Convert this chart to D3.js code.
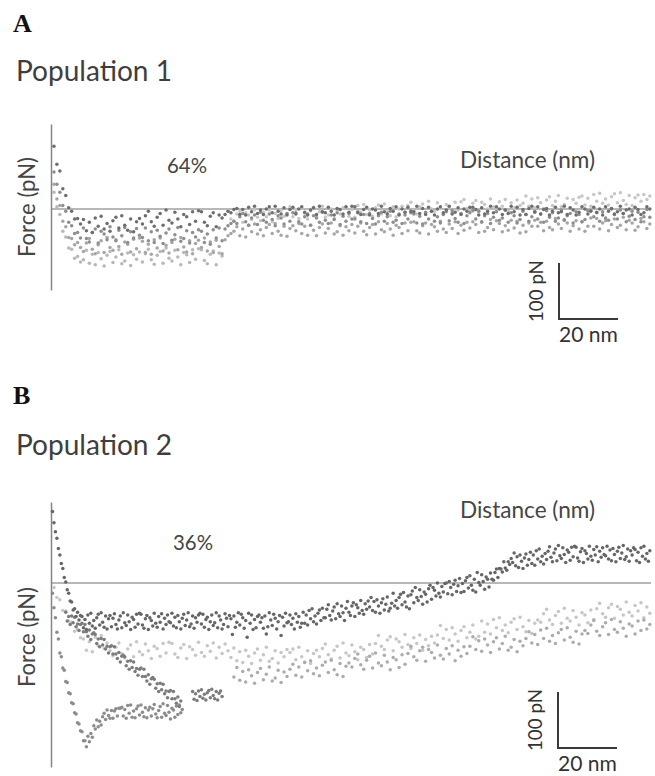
<!DOCTYPE html>
<html>
<head>
<meta charset="utf-8">
<script src="https://cdn.jsdelivr.net/npm/d3@7/dist/d3.min.js"></script>
<style>
  html, body { margin: 0; padding: 0; background: #fff; }
  svg { display: block; }
</style>
</head>
<body>
<div id="chart"></div>
<script>
/* Force-distance curves, two populations - D3 scatter */

/* ── Data (force in pN, sampled every *_STEP nm from *_START nm) ────── */

const DIST_MAX = 203.4;   // nm across the plot width

// Population 1 (64%)
const A1_START = 1, A1_STEP = 1;
const a1Force = [
  112, 80, 68, 36, 24, 2, -4, -18, -17, -27,
  -19, -39, -24, -42, -16, -31, -13, -36, -26, -40, -21, -15, -34, -12, -29, -38, -18, -41, -23, -17,
  -27, -12, -4, -23, -31, -15, -8, -29, -2, -20, -25, -6, -18, -32, -10, -14, -28, -5, -22, -3,
  -5, -24, -30, -13, -7, -32, -11, -16,
  -10, -4, -7, -1,
  1, -10, -1, -11, 3, -5, 5, -8, -2, -10, 0, 4, -7, 5, -4, -9, 2, -11, -1, 3,
  -9, 0, 4, -6, -11, -2, 2, -10, 5, -5, -7, 3, -4, -11, 1, -1, -9, 4, -6, 5,
  4, -7, -10, -1, 3, -11, 0, -2, -8, 5, -5, -9, 1, -4, 4, -11, 0, -6, 3, -4,
  -5, 5, -8, 1, -10, 3, -4, -11, 0, 4, -7, -2, 5, -9, -6, 2, -10, 0, -4, 3,
  3, -1, -11, 2, -9, -4, 5, -7, 4, 0, -10, -2, -8, 5, -5, 3, -11, -1, -10, 1,
  5, -6, 4, -9, -1, 1, -11, -4, 3, -7, -5, 5, -10, 2, -2, -11, -6, 4, 0, -9,
  -4, 3, -6, 0, -11, 4, -4, 1, -9, -5, 5, -8, -2, 0, -11, 3, -1, -10, -7, 4, 0
];

const A2_START = 1, A2_STEP = 1;
const a2Force = [
  66, 44, 30, 6, -4, -24, -30, -44, -42, -52,
  -34, -53, -59, -42, -36, -61, -40, -45, -55, -32, -50, -57, -38, -48, -33, -60, -41, -52, -35, -47,
  -51, -34, -57, -41, -60, -38, -49, -62, -43, -36, -56, -46, -33, -58, -53, -39, -61, -42, -50, -37,
  -40, -60, -45, -63, -37, -52, -34, -57,
  -36, -30, -26, -22,
  -26, -14, -8, -23, -29, -16, -11, -28, -6, -20, -24, -9, -19, -30, -12, -16, -27, -8, -22, -7,
  -7, -23, -27, -14, -9, -29, -12, -16, -24, -6, -20, -26, -11, -19, -7, -28, -13, -22, -8, -18,
  -18, -5, -23, -10, -26, -8, -17, -27, -12, -6, -22, -14, -4, -24, -20, -9, -26, -11, -18, -7,
  -9, -25, -13, -27, -6, -18, -4, -22, -14, -25, -10, -5, -21, -3, -17, -24, -8, -26, -12, -7,
  -3, -18, -4, -23, -12, -8, -26, -15, -5, -20, -16, -2, -24, -7, -12, -25, -19, -4, -10, -22,
  -14, -4, -18, -9, -24, -3, -15, -7, -22, -16, -2, -20, -12, -8, -25, -5, -10, -23, -19, -3,
  -3, -14, -7, -22, -5, -16, -20, 0, -10, -18, -2, -8, -23, -13, -4, -19, -6, -23, -14, -1, -15
];

const A3_START = 1, A3_STEP = 1;
const a3Force = [
  30, 4, -10, -40, -50, -70, -72, -88, -85, -95,
  -91, -74, -97, -81, -100, -78, -89, -102, -83, -76, -96, -86, -73, -98, -93, -79, -101, -82, -90, -77,
  -95, -80, -72, -91, -99, -83, -76, -97, -70, -88, -93, -74, -86, -100, -78, -82, -96, -73, -90, -71,
  -73, -92, -98, -81, -75, -100, -79, -84
];

const A4_START = 1, A4_STEP = 1;
const a4Force = [
  44, 18, 6, -22, -32, -51, -53, -64, -60, -69,
  -76, -61, -53, -72, -80, -64, -57, -78, -51, -69, -74, -55, -67, -81, -59, -63, -77, -54, -71, -52,
  -58, -78, -63, -81, -55, -70, -52, -75, -65, -79, -60, -54, -73, -51, -68, -77, -57, -80, -62, -56,
  -69, -52, -75, -59, -78, -56, -67, -80,
  -55, -48, -44, -40,
  -32, -48, -36, -50, -29, -41, -27, -45, -37, -48, -33, -28, -44, -26, -40, -47, -31, -49, -35, -30,
  -39, -26, -44, -31, -47, -29, -38, -48, -33, -27, -43, -35, -25, -45, -41, -30, -47, -32, -39, -28,
  -43, -31, -25, -40, -46, -33, -28, -45, -23, -37, -41, -26, -36, -47, -29, -33, -44, -25, -39, -24,
  -23, -39, -43, -30, -25, -45, -28, -32, -40, -22, -36, -42, -27, -35, -23, -44, -29, -38, -24, -34,
  -23, -28, -42, -24, -40, -33, -19, -37, -21, -26, -41, -30, -38, -20, -34, -22, -43, -29, -41, -25,
  -31, -20, -31, -24, -39, -22, -33, -37, -17, -27, -35, -19, -25, -40, -30, -21, -36, -23, -40, -31,
  -16, -31, -17, -36, -25, -21, -39, -28, -18, -33, -29, -15, -37, -20, -25, -38, -32, -17, -23, -35, -27
];

const A5_START = 60, A5_STEP = 1;
const a5Force = [
  -2, -18, -22, -9, -4, -24, -7, -11, -19, -1, -15, -21, -6, -14, -2, -23, -8, -17, -3, -13,
  -9, 4, -14, -1, -17, 1, -8, -18, -3, 3, -13, -5, 5, -15, -11, 0, -17, -2, -9, 2,
  3, -13, -1, -15, 6, -6, 8, -10, -2, -13, 2, 7, -9, 9, -5, -12, 4, -14, 0, 5,
  -6, 6, 12, -3, -9, 4, 9, -8, 14, 0, -4, 11, 1, -10, 8, 4, -7, 12, -2, 13,
  17, 1, -3, 10, 15, -5, 12, 8, 0, 18, 4, -2, 13, 5, 17, -4, 11, 2, 16, 6,
  10, 23, 5, 18, 2, 20, 11, 1, 16, 22, 6, 14, 24, 4, 8, 19, 2, 17, 10, 21,
  23, 7, 19, 5, 26, 14, 28, 10, 18, 7, 22, 27, 11, 29, 15, 8, 24, 6, 20, 25,
  14, 26, 17, 23
];

// Population 2 (36%)
const B1_START = 0.5, B1_STEP = 0.5;
const b1Force = [
  128, 108, 92, 80, 62, 50, 35, 26, 10, 2,
  -12, -18, -32, -34, -48, -46, -60, -52, -66, -58,
  -60, -80, -65, -83, -57, -72, -54, -77, -67, -81, -62, -56, -75, -53, -70, -79, -59, -82, -64, -58,
  -78, -63, -55, -74, -82, -66, -59, -80, -53, -71, -76, -57, -69, -83, -61, -65, -79, -56, -73, -54,
  -56, -75, -81, -64, -58, -83, -62, -67, -77, -54, -72, -79, -60, -70, -55, -82, -63, -74, -57, -69,
  -71, -54, -77, -61, -80, -58, -69, -82, -63, -56, -76, -66, -53, -78, -73, -59, -81, -62, -70, -57,
  -54, -73, -56, -79, -65, -61, -83, -69, -57, -76, -71, -53, -80, -59, -66, -82, -74, -55, -63, -78,
  -58, -64, -92, -59, -79, -70, -53, -75, -56, -62, -81, -67, -97, -54, -72, -57, -83, -65, -80, -60,
  -57, -70, -62, -81, -59, -91, -78, -53, -66, -76, -56, -63, -82, -69, -58, -94, -61, -77, -54, -71,
  -69, -57, -74, -63, -82, -55, -70, -60, -79, -72,
  -52, -72, -57, -75, -49, -64, -46, -69, -59, -73, -54, -48, -67, -45, -62,
  -62, -47, -39, -58, -66, -50, -43, -64, -37, -55, -60, -41, -53, -67, -45,
  -33, -52, -58, -41, -35, -60, -39, -44, -54, -31, -49, -56, -37, -47, -32,
  -43, -26, -49, -33, -52, -30, -41, -54, -35, -28, -48, -38, -25, -50, -45,
  -36, -18, -41, -31, -45, -26, -20, -39, -17, -34, -43, -23, -46,
  -21, -14, -35, -8, -26, -31, -12, -24, -38, -16, -20, -34,
  -10, -4, -29, -8, -13, -23, 0, -18, -25, -6, -16, -1,
  0, -19, 3, -8, -21, -2, 5, -15, -5, 8, -17,
  -1, -15, 4, 10, -9, 13, -4, -13, 7, -16,
  19, 1, -4, 15, 3, -11, 11, 7, -7,
  18, 7, 5, 19, 25, 10, 26, 25, 20, 38, 27, 23, 38, 33, 44,
  37, 54, 31, 47, 28, 50, 39, 26, 45, 52, 32, 42,
  55, 35, 50, 32, 58, 43, 61, 38, 48, 34, 53,
  42, 57, 65, 46, 38, 54, 61, 40, 67, 49, 44, 63, 51, 37, 59, 55, 41, 64, 47, 66,
  64, 45, 39, 56, 62, 37, 58, 53, 43, 66, 48, 41, 60, 50, 65, 38, 57, 46, 63, 51,
  49, 66, 43, 59, 40, 62, 51, 38, 57, 64, 44, 54, 67, 42, 47, 61, 39, 58, 50, 63,
  60, 40, 55, 37, 63, 48, 66, 43, 53, 39, 58
];

const B2_START = 1, B2_STEP = 1;
const b2Force = [
  -8, -26, -30, -49, -50, -68, -70, -86, -83, -98,
  -100, -120, -105, -123, -97, -112, -94, -117, -107, -121,
  -130, -115, -107, -126, -134, -118, -111, -132, -105, -123, -128, -109, -121, -135, -113, -117, -131, -108, -125, -106,
  -108, -127, -133, -116, -110, -135, -114, -119, -129, -106, -124, -131, -112, -122, -107, -134, -115, -126, -109, -121,
  -133, -116, -139, -123, -142, -120, -131, -144, -125, -118, -138, -128, -115, -140, -135, -121, -143, -124, -132, -119,
  -124, -118, -137, -115, -132, -141, -121, -144, -126, -120,
  -132, -117, -109, -128, -136, -120, -113, -134, -107, -125, -130, -111, -123, -137, -115, -119, -133, -110, -127, -108,
  -94, -113, -119, -102, -96, -121, -100, -105, -115, -92, -110, -117, -98, -108, -93, -120, -101, -112, -95, -107,
  -93, -76, -99, -83, -102, -80, -91, -104, -85, -78, -98, -88, -75, -100, -95,
  -68, -88, -73, -91, -65, -80, -62, -85, -75, -89, -70, -64, -83, -61, -78, -87, -67, -90, -72, -66,
  -70, -55, -47, -66, -74, -58, -51, -72, -45, -63, -68, -49, -61, -75, -53, -57, -71, -48, -65, -46,
  -36, -55, -61, -44, -38, -63, -42, -47, -57, -34, -52, -59, -40, -50, -35, -62, -43, -54
];

const B3_START = 5, B3_STEP = 0.5;
const b3Force = [
  -52, -68, -60, -74, -59, -71, -61, -78, -73, -85, -74, -72, -87, -74, -87, -95, -84, -101, -91, -89,
  -92, -108, -100, -114, -99, -111, -101, -118, -113, -125, -114, -112, -127, -114, -127, -135, -124, -141, -131, -129,
  -132, -148, -140, -154, -139, -151, -141, -158, -153, -165, -154, -152, -167, -154, -167, -175, -164, -181, -171, -169,
  -172, -188, -180, -194, -179, -191, -181, -198, -193, -205, -194, -192, -207, -194, -207, -215, -204, -221, -211,
  null, null, null, null, null, null, null,
  -194, -208, -198, -210, -193, -203, -191, -206, -199, -209, -196, -192, -205, -190, -201, -207, -194, -209, -197, -193, -203
];

const B4_START = 0.5, B4_STEP = 0.5;
const b4Force = [
  -18, -44, -62, -88, -100, -125, -132, -152, -156, -176, -178, -196, -198, -214, -216, -232, -234, -250, -252, -264, -266, -282, -282, -293,
  -274, -284, -269, -276, -255, -261, -245, -257, -247, -254, -239, -233, -244, -227, -237, -242, -228, -242, -229, -225, -238, -224, -224,
  -222, -238, -226, -242, -219, -233, -218, -240, -229, -241, -225, -220, -236, -218, -231, -239, -223, -241, -227, -222,
  -238, -225, -217, -234, -241, -228, -221, -240, -216, -233, -237, -219, -231, -243, -224, -227, -240, -220, -235, -218, -232, -226
];

const B5_START = 62, B5_STEP = 1;
const b5Force = [
  -168, -151, -174, -158, -177, -155, -166, -179, -160, -153, -173, -163, -150, -175, -170, -156, -178, -159, -167, -154,
  -145, -165, -150, -168, -142, -157, -139, -162, -152, -166, -147, -141, -160, -138, -155, -164, -144, -167, -149, -143,
  -150, -135, -127, -146, -154, -138, -131, -152, -125, -143, -148, -129, -141, -155, -133, -137, -151, -128, -145, -126,
  -113, -132, -138, -121, -115, -140, -119, -124, -134, -111, -129, -136, -117, -127, -112, -139, -120, -131, -114, -126,
  -113, -96, -119, -103, -122, -100, -111, -124, -105, -98, -118, -108, -95, -120, -115, -101, -123, -104, -112, -99,
  -87, -107, -92, -110, -84, -99, -81, -104, -94, -108, -89, -83, -102, -80, -97, -106, -86, -109, -91, -85,
  -90, -75, -67, -86, -94, -78, -71, -92, -65, -83, -88, -69, -81, -95, -73, -77, -91, -68, -85, -66, -82, -74
];

const SCALE_BAR_NM = 20;
const SCALE_BAR_PN = 100;

/* ── Layout ─────────────────────────────────────────────────────────── */

const W = 655, H = 776;
const LABEL_FONT = 'Lato, "Open Sans", sans-serif';

const panels = [
  {
    letter: 'A', letterY: 32, title: 'Population 1', titleY: 81,
    pct: '64%', pctX: 187, pctY: 173, distY: 168, forceY: 207,
    yTop: 124, yBottom: 290, yDomain: [-145, 152],
    bar: { x: 559, y: 319 },
    traces: [
      { start: A5_START, step: A5_STEP, values: a5Force, color: '#c6c6c6' },
      { start: A3_START, step: A3_STEP, values: a3Force, color: '#b8b8b8' },
      { start: A4_START, step: A4_STEP, values: a4Force, color: '#a6a6a6' },
      { start: A2_START, step: A2_STEP, values: a2Force, color: '#8e8e8e' },
      { start: A1_START, step: A1_STEP, values: a1Force, color: '#6e6e6e' },
    ],
  },
  {
    letter: 'B', letterY: 404, title: 'Population 2', titleY: 455,
    pct: '36%', pctX: 193, pctY: 550, distY: 518, forceY: 637,
    yTop: 502, yBottom: 767, yDomain: [-329, 145],
    bar: { x: 558, y: 748 },
    traces: [
      { start: B2_START, step: B2_STEP, values: b2Force, color: '#c6c6c6' },
      { start: B5_START, step: B5_STEP, values: b5Force, color: '#acacac' },
      { start: B4_START, step: B4_STEP, values: b4Force, color: '#8c8c8c' },
      { start: B3_START, step: B3_STEP, values: b3Force, color: '#7c7c7c' },
      { start: B1_START, step: B1_STEP, values: b1Force, color: '#666666' },
    ],
  },
];

const svg = d3.select('#chart').append('svg')
  .attr('width', W)
  .attr('height', H)
  .attr('viewBox', [0, 0, W, H]);

svg.append('defs').append('filter')
  .attr('id', 'soft')
  .attr('x', '-5%').attr('y', '-5%').attr('width', '110%').attr('height', '110%')
  .append('feGaussianBlur')
  .attr('stdDeviation', 0.55);

// shrink/grow a text so it spans the given width
function fitWidth(sel, width) {
  const len = sel.node().getComputedTextLength();
  const fs = parseFloat(sel.attr('font-size'));
  if (len > 0) sel.attr('font-size', (fs * width / len).toFixed(2));
  return sel;
}

/* ── Panels ─────────────────────────────────────────────────────────── */

panels.forEach(p => {
  const x = d3.scaleLinear().domain([0, DIST_MAX]).range([51, 651]);
  const y = d3.scaleLinear().domain(p.yDomain).range([p.yBottom, p.yTop]);
  const g = svg.append('g');

  // Panel letter + title
  g.append('text')
    .attr('x', 13).attr('y', p.letterY)
    .attr('font-family', '"Liberation Serif", "Times New Roman", serif')
    .attr('font-weight', 'bold')
    .attr('font-size', 26)
    .attr('fill', '#111')
    .text(p.letter);

  fitWidth(g.append('text')
    .attr('x', 16).attr('y', p.titleY)
    .attr('font-family', LABEL_FONT)
    .attr('font-size', 27)
    .attr('fill', '#3e3e3e')
    .text(p.title), 156);

  // Zero line
  g.append('line')
    .attr('x1', x(0)).attr('x2', x(DIST_MAX))
    .attr('y1', y(0)).attr('y2', y(0))
    .attr('stroke', '#a0a0a0')
    .attr('stroke-width', 1.5);

  // Force axis (no ticks)
  const axis = g.append('g')
    .attr('transform', `translate(${x(0)},0)`)
    .call(d3.axisLeft(y).tickValues([]).tickSizeOuter(0));
  axis.select('.domain')
    .attr('stroke', '#858585')
    .attr('stroke-width', 1.5);

  // Dots
  const dots = g.append('g').attr('filter', 'url(#soft)');
  p.traces.forEach(t => {
    const pts = t.values
      .map((f, i) => ({ d: t.start + i * t.step, f }))
      .filter(v => v.f !== null);
    dots.append('g')
      .selectAll('circle')
      .data(pts)
      .join('circle')
      .attr('cx', v => x(v.d))
      .attr('cy', v => y(v.f))
      .attr('r', 1.75)
      .attr('fill', t.color);
  });

  // Axis titles
  fitWidth(g.append('text')
    .attr('transform', `translate(35,${p.forceY}) rotate(-90)`)
    .attr('text-anchor', 'middle')
    .attr('font-family', LABEL_FONT)
    .attr('font-size', 20)
    .attr('fill', '#454545')
    .text('Force (pN)'), 100);

  fitWidth(g.append('text')
    .attr('x', 460).attr('y', p.distY)
    .attr('font-family', LABEL_FONT)
    .attr('font-size', 20)
    .attr('fill', '#454545')
    .text('Distance (nm)'), 135);

  fitWidth(g.append('text')
    .attr('x', p.pctX).attr('y', p.pctY)
    .attr('text-anchor', 'middle')
    .attr('font-family', LABEL_FONT)
    .attr('font-size', 18)
    .attr('fill', '#454545')
    .text(p.pct), 40);

  // Scale bar
  const barW = x(SCALE_BAR_NM) - x(0);
  const barH = y(0) - y(SCALE_BAR_PN);
  const bx = p.bar.x, by = p.bar.y;
  g.append('path')
    .attr('d', `M${bx},${by - barH}V${by}H${bx + barW}`)
    .attr('fill', 'none')
    .attr('stroke', '#3a3a3a')
    .attr('stroke-width', 2);

  fitWidth(g.append('text')
    .attr('transform', `translate(${bx - 16},${by - barH / 2}) rotate(-90)`)
    .attr('text-anchor', 'middle')
    .attr('font-family', LABEL_FONT)
    .attr('font-size', 18)
    .attr('fill', '#333')
    .text(SCALE_BAR_PN + ' pN'), 62);

  fitWidth(g.append('text')
    .attr('x', bx).attr('y', by + 23)
    .attr('font-family', LABEL_FONT)
    .attr('font-size', 18)
    .attr('fill', '#333')
    .text(SCALE_BAR_NM + ' nm'), 59);
});
</script>
</body>
</html>
